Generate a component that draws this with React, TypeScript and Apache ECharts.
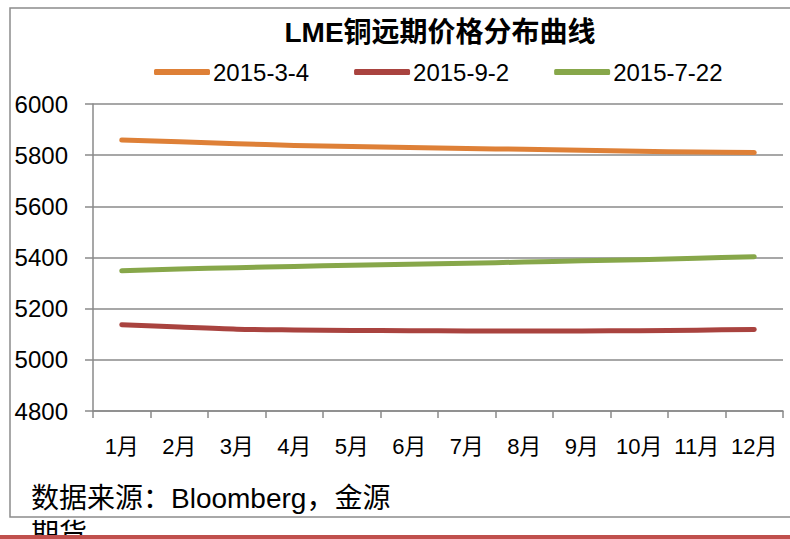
import React, { useEffect, useRef } from "react";
import * as echarts from "echarts";

const months = ["1月", "2月", "3月", "4月", "5月", "6月", "7月", "8月", "9月", "10月", "11月", "12月"];
const seriesNames = ["2015-3-4", "2015-9-2", "2015-7-22"];
const march4 = [5859, 5852, 5845, 5838, 5834, 5830, 5826, 5823, 5819, 5815, 5812, 5810];
const sept2 = [5137, 5128, 5120, 5117, 5115, 5114, 5113, 5113, 5113, 5114, 5116, 5119];
const july22 = [5348, 5355, 5360, 5365, 5370, 5374, 5378, 5382, 5387, 5391, 5397, 5403];
const colors = ["#DE8037", "#A9433F", "#87A74A"];
const titleText = "LME铜远期价格分布曲线";
const sourceLine1 = "数据来源：Bloomberg，金源";
const sourceLine2 = "期货";

const FONT = "'Liberation Sans', Arial, 'Noto Sans CJK SC', sans-serif";

export default function App() {
  const ref = useRef<HTMLDivElement>(null);
  useEffect(() => {
    if (!ref.current) return;
    const chart = echarts.init(ref.current, null, { renderer: "svg" });
    const data = [march4, sept2, july22];
    chart.setOption({
      animation: false,
      backgroundColor: "#fff",
      title: {
        text: titleText,
        left: 435,
        textAlign: "center",
        top: 13,
        textStyle: { fontFamily: FONT, fontSize: 28, fontWeight: "bold", color: "#000" },
      },
      legend: {
        left: 154,
        top: 60,
        padding: 0,
        itemWidth: 56,
        itemHeight: 6,
        itemGap: 45,
        icon: "roundRect",
        textStyle: { fontFamily: FONT, fontSize: 24, color: "#000", padding: [0, 0, 0, -2] },
        data: seriesNames,
      },
      grid: { left: 93, right: 7, top: 104, bottom: 128, containLabel: false },
      xAxis: {
        type: "category",
        data: months,
        boundaryGap: true,
        axisLine: { lineStyle: { color: "#8a8a8a", width: 1.5 } },
        axisTick: { show: true, length: 7, interval: 0, lineStyle: { color: "#8a8a8a", width: 1.5 } },
        axisLabel: { interval: 0, margin: 24, fontFamily: FONT, fontSize: 22, color: "#000" },
      },
      yAxis: {
        type: "value",
        min: 4800,
        max: 6000,
        interval: 200,
        axisLine: { show: true, lineStyle: { color: "#8a8a8a", width: 1.5 } },
        axisTick: { show: true, length: 8, lineStyle: { color: "#8a8a8a", width: 1.5 } },
        axisLabel: {
          margin: 25,
          fontFamily: FONT,
          fontSize: 24,
          color: "#000",
          formatter: (v: number) => String(v),
        },
        splitLine: { show: true, lineStyle: { color: "#8a8a8a", width: 1.5 } },
      },
      series: seriesNames.map((name, i) => ({
        name,
        type: "line",
        data: data[i],
        smooth: 0.3,
        symbol: "none",
        color: colors[i],
        lineStyle: { width: 5, color: colors[i], cap: "round", join: "round" },
      })),
      graphic: [
        {
          type: "rect",
          shape: { x: 10, y: 8, width: 800, height: 509 },
          style: { fill: "none", stroke: "#8c8c8c", lineWidth: 1.5 },
          z: -1,
          silent: true,
        },
        {
          type: "text",
          x: 31,
          y: 498,
          style: {
            text: sourceLine1,
            font: `28px ${FONT}`,
            fill: "#000",
            textVerticalAlign: "middle",
          },
        },
        {
          type: "text",
          x: 31,
          y: 534,
          style: {
            text: sourceLine2,
            font: `28px ${FONT}`,
            fill: "#000",
            textVerticalAlign: "middle",
          },
        },
        {
          type: "rect",
          shape: { x: 0, y: 535, width: 790, height: 5 },
          style: { fill: "#C0504D" },
          z: 100,
        },
      ],
    });
    return () => chart.dispose();
  }, []);
  return (
    <div
      ref={ref}
      style={{ position: "fixed", left: 0, top: 0, width: 790, height: 539, background: "#fff" }}
    />
  );
}
